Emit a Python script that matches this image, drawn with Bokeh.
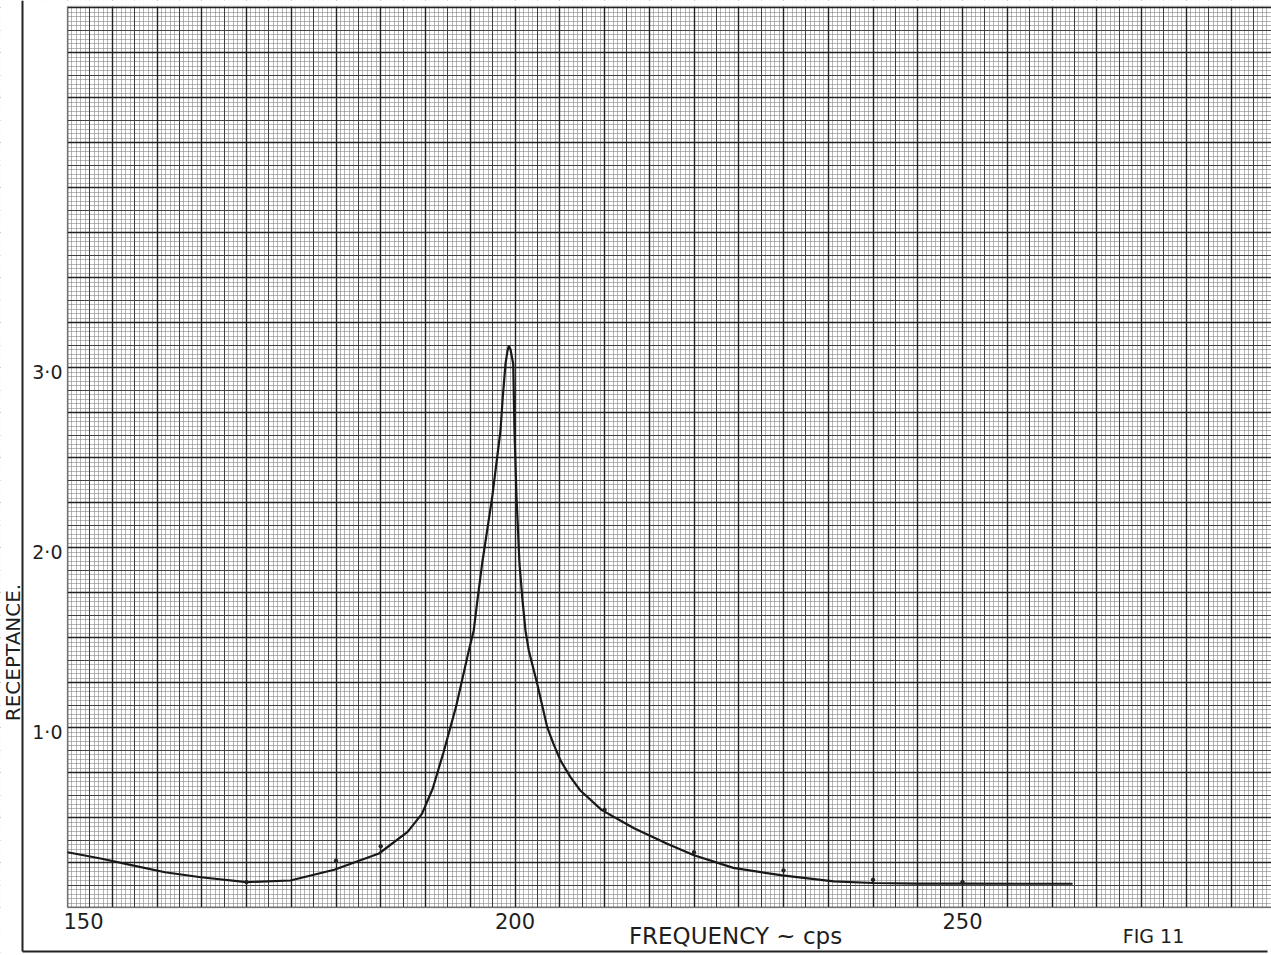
import numpy as np
from bokeh.plotting import figure
from bokeh.models import Range1d, Grid, SingleIntervalTicker, Label, BoxAnnotation
from bokeh.embed import file_html
from bokeh.resources import INLINE

# ---- data (frequency in cps, receptance) ----
freq = [150.0, 153.7, 157.4, 160.9, 164.9, 170.0, 174.9, 179.8, 184.8, 188.0,
        189.6, 190.8, 192.0, 193.4, 194.84, 195.39, 195.8, 196.33, 197.45, 198.38,
        198.64, 198.94, 199.15, 199.31, 199.5, 199.8, 199.94, 200.17, 200.5, 200.84,
        201.17, 201.54, 202.48, 203.6, 204.3, 205.08, 206.2, 207.3, 209.7, 213.3,
        217.0, 220.0, 224.4, 229.85, 235.6, 240.0, 245.0, 250.0, 256.0, 262.3]
receptance = [0.307, 0.272, 0.233, 0.196, 0.168, 0.141, 0.150, 0.210, 0.300, 0.420,
              0.520, 0.660, 0.860, 1.113, 1.428, 1.539, 1.706, 1.911, 2.279, 2.650,
              2.840, 3.020, 3.090, 3.120, 3.100, 3.020, 2.650, 2.280, 1.910, 1.706,
              1.539, 1.428, 1.243, 1.002, 0.909, 0.817, 0.724, 0.650, 0.541, 0.440,
              0.354, 0.290, 0.220, 0.178, 0.145, 0.136, 0.133, 0.133, 0.132, 0.132]
point_freq = [170, 180, 185, 210, 220, 230, 240, 250]
point_rec = [0.141, 0.26, 0.34, 0.543, 0.307, 0.206, 0.154, 0.141]

x_ticks = [150, 200, 250]
x_tick_labels = ["150", "200", "250"]
y_ticks = [1, 2, 3]
y_tick_labels = ["1·0", "2·0", "3·0"]
x_title = "FREQUENCY ~ cps"
y_title = "RECEPTANCE."
fig_label = "FIG 11"

# ---- geometry of the sheet (pixels) ----
W, H = 1271, 955
PAPER_LEFT_PX, PAPER_BOTTOM_PX, PAPER_TOP_PX = 67, 907, 6
PX_PER_CPS = 8.95
PX_PER_UNIT = 180.0
X0 = 150.0


def xd(px):
    return X0 + (px - PAPER_LEFT_PX) / PX_PER_CPS


def yd(py):
    return (PAPER_BOTTOM_PX - py) / PX_PER_UNIT


FONT = "DejaVu Sans"
INK = "#1e1e1e"

p = figure(width=W, height=H, x_range=Range1d(xd(0), xd(W)), y_range=Range1d(yd(H), yd(0)),
           output_backend="svg", toolbar_location=None,
           x_axis_type=None, y_axis_type=None, min_border=0)
p.background_fill_color = "white"
p.border_fill_color = "white"
p.outline_line_color = None

# graph-paper grid: fine (mm), medium (5 mm), heavy (cm)
grid_specs = [
    (0, 0.5, "#858585", 0.6),
    (1, 0.025, "#858585", 0.6),
    (0, 2.5, "#404040", 1.0),
    (1, 0.125, "#404040", 1.0),
    (0, 5.0, "#222222", 1.4),
    (1, 0.25, "#222222", 1.4),
]
for dim, ivl, col, wid in grid_specs:
    p.add_layout(Grid(dimension=dim,
                      ticker=SingleIntervalTicker(interval=ivl, num_minor_ticks=0),
                      grid_line_color=col, grid_line_width=wid))

paper_top = yd(PAPER_TOP_PX)
# white margins around the graph paper
for kw in (dict(left=xd(-20), right=X0, bottom=yd(H + 20), top=yd(-20)),
           dict(left=xd(-20), right=xd(W + 20), bottom=yd(H + 20), top=0.0),
           dict(left=xd(-20), right=xd(W + 20), bottom=paper_top, top=yd(-20))):
    p.add_layout(BoxAnnotation(level="underlay", fill_color="white", fill_alpha=1.0,
                               line_color=None, **kw))
p.add_layout(BoxAnnotation(level="underlay", left=X0, right=xd(W + 20), bottom=0.0, top=paper_top,
                           fill_alpha=0.0, line_color="#222222", line_width=1.6))

# curve and measured points
p.line(freq, receptance, line_color="#181818", line_width=2.2)
p.scatter(point_freq, point_rec, size=3.5, color="#222222")

# tick labels (alphabetic anchors are compensated for the renderer's offset)
for t, s in zip(x_ticks, x_tick_labels):
    first = t == x_ticks[0]
    p.add_layout(Label(x=t, y=yd(920), text=s, x_offset=-4 if first else 0,
                       text_align="left" if first else "center", text_baseline="alphabetic",
                       text_font=FONT, text_font_size="21px", text_color=INK))
for t, s in zip(y_ticks, y_tick_labels):
    p.add_layout(Label(x=xd(62), y=t - 4 / PX_PER_UNIT, text=s,
                       text_align="right", text_baseline="alphabetic",
                       text_font=FONT, text_font_size="19px", text_color=INK))

# titles
p.add_layout(Label(x=xd(12), y=yd(652), text=y_title, angle=np.pi / 2,
                   text_align="center", text_baseline="alphabetic",
                   text_font=FONT, text_font_size="20px", text_color=INK))
p.add_layout(Label(x=xd(735), y=yd(935), text=x_title,
                   text_align="center", text_baseline="alphabetic",
                   text_font=FONT, text_font_size="23px", text_color=INK))
p.add_layout(Label(x=xd(1153), y=yd(935), text=fig_label,
                   text_align="center", text_baseline="alphabetic",
                   text_font=FONT, text_font_size="19px", text_color=INK))

# outer frame lines (left and bottom) of the sheet
p.segment(x0=[xd(22), xd(22)], y0=[yd(0), yd(951)], x1=[xd(22), xd(1267)], y1=[yd(951), yd(951)],
          line_color="#222222", line_width=2)

open("out.html", "w").write(file_html(p, INLINE))
